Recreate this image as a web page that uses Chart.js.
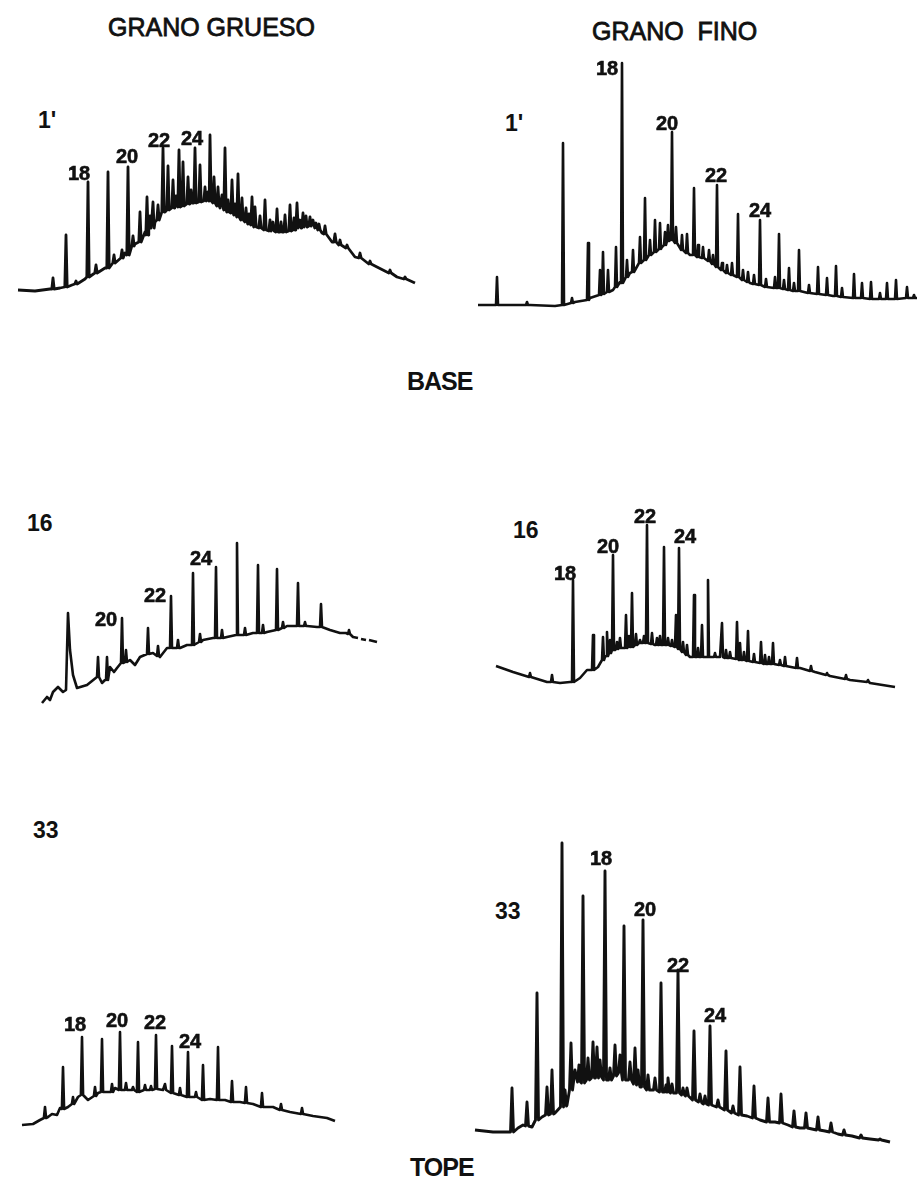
<!DOCTYPE html>
<html>
<head>
<meta charset="utf-8">
<script src="https://cdn.jsdelivr.net/npm/chart.js@4"></script>
<style>
  body { margin: 0; background: #fff; }
  #page { position: relative; width: 922px; height: 1191px; overflow: hidden; font-family: "Liberation Sans", Arial, sans-serif; color: #111; }
  .title { position: absolute; font-size: 25px; line-height: 25px; white-space: pre; -webkit-text-stroke: 0.8px #111; }
  .section { position: absolute; font-size: 25px; line-height: 25px; font-weight: bold; letter-spacing: -1px; }
  .sample { position: absolute; font-size: 23px; line-height: 23px; font-weight: bold; }
  .box { position: absolute; }
</style>
</head>
<body>
<div id="page">
  <div class="title" style="left:108px; top:15px;">GRANO GRUESO</div>
  <div class="title" style="left:592px; top:19px;">GRANO  FINO</div>
  <div class="section" style="left:407px; top:369px;">BASE</div>
  <div class="section" style="left:410px; top:1155px;">TOPE</div>

  <div class="sample" style="left:38px; top:109px;">1'</div>
  <div class="sample" style="left:505px; top:112px;">1'</div>
  <div class="sample" style="left:27px; top:512px;">16</div>
  <div class="sample" style="left:513px; top:519px;">16</div>
  <div class="sample" style="left:33px; top:819px;">33</div>
  <div class="sample" style="left:495px; top:900px;">33</div>

  <div class="box" style="left:10px; top:100px;"><canvas id="tl" width="420" height="200"></canvas></div>
  <div class="box" style="left:470px; top:50px;"><canvas id="tr" width="450" height="265"></canvas></div>
  <div class="box" style="left:30px; top:505px;"><canvas id="ml" width="360" height="205"></canvas></div>
  <div class="box" style="left:480px; top:500px;"><canvas id="mr" width="420" height="200"></canvas></div>
  <div class="box" style="left:20px; top:1000px;"><canvas id="bl" width="330" height="140"></canvas></div>
  <div class="box" style="left:460px; top:830px;"><canvas id="br" width="440" height="320"></canvas></div>
</div>
<script>
// hump / background of each trace: [retention, response]
const tlBase = [[8,10],[25,9],[40,11],[50,12],[62,15],[75,21],[85,25],[95,32],[105,38],[115,47],[125,56],[135,68],[145,78],[155,88],[165,94],[180,98],[195,100],[210,92],[225,85],[240,75],[255,70],[270,68],[287,73],[302,74],[312,67],[322,58],[336,52],[345,43],[367,33],[387,23],[405,17]];
// peaks: [retention, foot, top]
const tlPeaks = [[43,11,22],[56,13,65],[66,16,19],[78,23,118],[86,27,35],[98,32,128],[104,37,45],[112,42,50],[118,45,133],[123,54,64],[130,58,88],[137,65,103],[140,72,84],[143,72,98],[148,80,95],[153,88,152],[158,90,134],[163,92,120],[166,94,104],[169,93,150],[173,94,138],[178,96,123],[181,97,110],[185,97,152],[190,98,135],[195,99,113],[198,99,108],[200,99,165],[204,97,123],[208,94,113],[212,92,105],[215,90,152],[218,88,100],[222,87,120],[225,85,96],[228,83,126],[232,80,102],[236,78,92],[239,76,86],[242,75,103],[245,73,93],[250,72,84],[255,70,100],[260,69,80],[263,69,78],[267,68,91],[271,68,78],[275,68,85],[280,69,95],[284,70,82],[287,72,97],[290,72,80],[293,73,87],[296,73,84],[300,74,83],[303,74,80],[306,72,77],[309,70,76],[315,66,74],[325,58,66],[330,55,60],[337,52,55],[350,42,47],[360,36,39],[380,27,30],[395,21,23]];
const tlTags = [[69,120,'18'],[117,137,'20'],[149,153,'22'],[182,155,'24']];

const trBase = [[8,10],[30,10],[60,10],[85,9],[105,13],[120,17],[130,20],[143,25],[150,33],[160,42],[170,52],[180,62],[192,68],[200,75],[210,67],[220,60],[233,57],[247,48],[263,38],[280,32],[297,27],[320,25],[340,22],[363,19],[387,17],[413,16],[447,17]];
const trPeaks = [[27,10,38],[57,10,13],[93,10,172],[102,12,17],[118,15,72],[130,20,45],[133,21,63],[138,23,45],[146,28,68],[152,32,252],[157,38,55],[163,43,65],[170,52,78],[175,55,117],[180,60,75],[185,63,95],[190,66,92],[195,70,83],[198,74,90],[202,75,183],[206,72,88],[212,65,80],[217,62,81],[224,60,127],[228,58,70],[233,57,68],[239,54,65],[243,51,60],[247,48,130],[252,45,52],[257,42,50],[262,40,52],[268,38,101],[273,35,45],[278,33,43],[284,31,40],[290,30,95],[296,28,36],[305,27,38],[309,27,81],[314,26,35],[319,25,47],[324,24,32],[329,24,65],[339,22,30],[348,21,48],[357,20,37],[366,19,49],[372,18,27],[384,17,41],[392,17,32],[401,16,33],[410,16,22],[417,16,32],[426,16,35],[437,17,28],[444,17,20]];
const trTags = [[137,240,'18'],[197,185,'20'],[246,133,'22'],[290,98,'24']];

const mlBase = [[12,7],[17,13],[20,10],[23,18],[28,23],[33,18],[36,20],[38,97],[40,60],[43,35],[47,22],[57,25],[67,33],[72,27],[75,30],[80,43],[84,38],[87,42],[100,50],[105,45],[110,53],[123,57],[130,53],[137,62],[150,62],[157,65],[173,70],[183,72],[197,73],[210,75],[223,77],[237,78],[257,84],[277,84],[287,83],[300,80],[310,77],[316,77],[323,73],[328,72],[330,null],[331,71],[336,70],[338,null],[339,70],[347,68]];
const mlPeaks = [[68,33,53],[77,30,53],[92,47,92],[96,48,60],[118,56,82],[128,54,64],[141,62,114],[148,62,70],[163,65,137],[170,68,76],[186,72,143],[192,72,80],[207,75,167],[215,75,82],[228,77,145],[233,77,85],[247,80,141],[253,82,88],[268,84,127],[275,84,88],[291,83,106],[319,76,80]];
const mlTags = [[76,84,'20'],[125,108,'22'],[171,145,'24']];

const mrBase = [[16,34],[33,28],[50,23],[67,18],[80,17],[90,18],[100,22],[107,30],[118,33],[125,43],[135,50],[145,52],[160,57],[175,55],[192,55],[210,43],[220,43],[240,43],[260,40],[280,37],[300,35],[320,32],[335,28],[350,24],[370,20],[390,17],[415,13]];
const mrPeaks = [[50,23,27],[72,18,25],[93,18,120],[113,30,65],[123,40,63],[127,44,68],[130,47,60],[133,50,145],[137,51,58],[140,52,62],[146,52,85],[149,53,64],[152,53,107],[156,55,66],[160,57,60],[164,57,64],[167,57,175],[172,56,67],[177,55,62],[180,55,64],[184,55,153],[188,55,62],[192,54,60],[196,53,85],[199,51,152],[203,48,58],[207,45,55],[214,43,105],[218,43,52],[222,43,75],[228,43,120],[235,43,47],[242,43,77],[246,42,50],[250,42,48],[257,41,78],[260,40,57],[264,40,48],[268,39,69],[274,38,46],[281,37,58],[285,36,45],[289,36,43],[293,36,57],[300,35,40],[305,34,43],[317,32,42],[331,29,34],[347,25,27],[366,21,25],[388,18,20]];
const mrTags = [[85,120,'18'],[128,147,'20'],[165,177,'22'],[205,157,'24']];

const blBase = [[2,15],[13,16],[20,20],[28,23],[32,26],[37,25],[40,32],[48,33],[58,43],[68,40],[78,47],[88,48],[95,52],[107,50],[127,50],[143,50],[160,45],[175,43],[190,41],[205,40],[220,38],[233,36],[253,33],[270,28],[293,24],[307,22],[315,19]];
const blPeaks = [[25,22,33],[43,31,73],[53,36,43],[62,45,103],[75,44,53],[82,48,101],[92,48,56],[100,50,108],[106,50,57],[113,50,53],[118,48,98],[125,50,55],[131,50,54],[136,51,105],[145,50,56],[152,47,94],[160,45,52],[168,43,88],[176,43,48],[183,40,75],[198,40,93],[212,38,59],[226,37,53],[242,33,47],[261,30,36],[282,26,32]];
const blTags = [[55,109,'18'],[97,113,'20'],[135,111,'22'],[170,92,'24']];

const brBase = [[15,20],[33,18],[48,18],[58,22],[63,25],[72,23],[82,33],[95,37],[107,45],[115,80],[118,67],[128,70],[140,73],[150,70],[160,77],[170,70],[180,63],[190,60],[196,60],[213,57],[223,55],[242,47],[258,43],[273,37],[287,34],[300,30],[315,28],[328,25],[340,22],[352,21],[365,19],[378,16],[392,14],[410,11],[430,8]];
const brPeaks = [[52,18,62],[67,24,48],[77,30,157],[87,35,63],[92,36,80],[102,43,307],[105,44,60],[111,60,107],[119,68,85],[123,67,254],[128,70,92],[133,72,108],[137,72,103],[140,73,90],[145,70,279],[150,70,82],[155,74,105],[160,77,95],[164,70,224],[170,70,88],[175,66,102],[178,65,80],[183,63,230],[188,60,75],[195,60,72],[201,58,167],[206,58,65],[208,58,72],[212,57,66],[218,57,180],[223,55,62],[227,54,62],[234,50,119],[240,48,56],[245,46,54],[250,45,124],[258,43,50],[266,40,99],[273,37,44],[280,35,83],[294,32,64],[308,28,52],[321,27,56],[334,23,39],[346,22,37],[358,20,33],[371,18,27],[384,15,20],[401,12,15],[420,10,11]];
const brTags = [[141,285,'18'],[185,234,'20'],[218,178,'22'],[255,128,'24']];

const panels = [
  { id: 'tl', w: 420, h: 200, hw: 1.2, lw: 2.8, base: tlBase, peaks: tlPeaks, tags: tlTags },
  { id: 'tr', w: 450, h: 265, hw: 1.0, lw: 2.6, base: trBase, peaks: trPeaks, tags: trTags },
  { id: 'ml', w: 360, h: 205, hw: 1.0, lw: 2.6, base: mlBase, peaks: mlPeaks, tags: mlTags },
  { id: 'mr', w: 420, h: 200, hw: 1.0, lw: 2.6, base: mrBase, peaks: mrPeaks, tags: mrTags },
  { id: 'bl', w: 330, h: 140, hw: 1.1, lw: 2.6, base: blBase, peaks: blPeaks, tags: blTags },
  { id: 'br', w: 440, h: 320, hw: 1.5, lw: 2.9, base: brBase, peaks: brPeaks, tags: brTags }
];

// merge hump points and peak spikes into one trace
function buildTrace(base, peaks, hw) {
  const pts = base
    .filter(b => !peaks.some(p => Math.abs(p[0] - b[0]) <= hw + 0.2))
    .map(b => ({ x: b[0], y: b[1] }));
  peaks.forEach(p => {
    pts.push({ x: p[0] - hw, y: p[1] }, { x: p[0], y: p[2] }, { x: p[0] + hw, y: p[1] });
  });
  pts.sort((a, b) => a.x - b.x);
  return pts;
}

function tagPlugin(tags) {
  return {
    id: 'peakTags',
    afterDatasetsDraw(chart) {
      const ctx = chart.ctx;
      const xs = chart.scales.x, ys = chart.scales.y;
      ctx.save();
      ctx.fillStyle = '#111';
      ctx.strokeStyle = '#111';
      ctx.lineWidth = 0.6;
      ctx.font = 'bold 20px "Liberation Sans", Arial, sans-serif';
      ctx.textAlign = 'center';
      ctx.textBaseline = 'alphabetic';
      tags.forEach(t => {
        const x = xs.getPixelForValue(t[0]), y = ys.getPixelForValue(t[1]);
        ctx.fillText(t[2], x, y);
        ctx.strokeText(t[2], x, y);
      });
      ctx.restore();
    }
  };
}

panels.forEach(p => {
  const ctx = document.getElementById(p.id).getContext('2d');
  new Chart(ctx, {
    type: 'line',
    data: {
      datasets: [{
        data: buildTrace(p.base, p.peaks, p.hw),
        borderColor: '#111',
        borderWidth: p.lw,
        pointRadius: 0,
        tension: 0,
        fill: false,
        spanGaps: false,
        clip: false,
        borderJoinStyle: 'round'
      }]
    },
    options: {
      responsive: false,
      animation: false,
      events: [],
      layout: { padding: 0 },
      plugins: { legend: { display: false }, tooltip: { enabled: false } },
      scales: {
        x: { type: 'linear', min: 0, max: p.w, display: false },
        y: { type: 'linear', min: 0, max: p.h, display: false }
      }
    },
    plugins: [tagPlugin(p.tags)]
  });
});
</script>
</body>
</html>
